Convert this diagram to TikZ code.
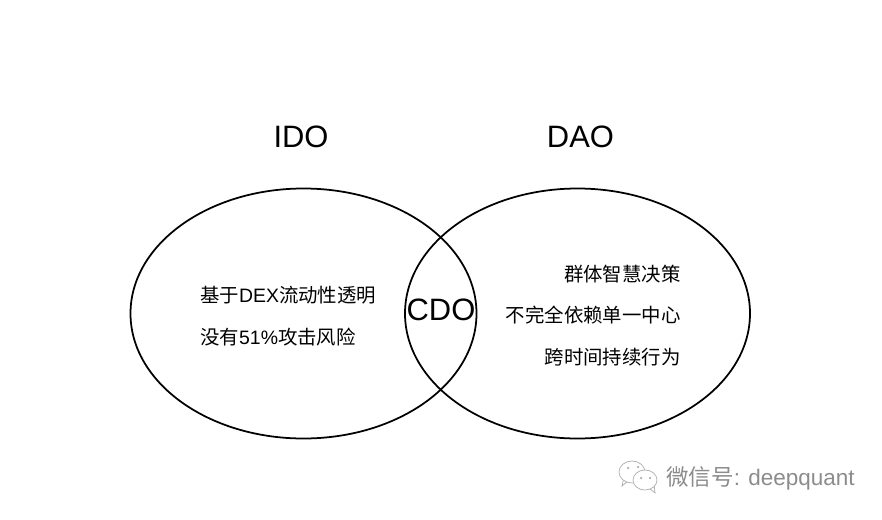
\documentclass[tikz,border=0pt]{standalone}
\usepackage{fontspec}
\setmainfont{Liberation Sans}
\newfontfamily\cjk{Noto Sans CJK SC}
\usetikzlibrary{positioning}
\usetikzlibrary{shapes.geometric}
\definecolor{markgray}{gray}{0.55}
\definecolor{icongray}{gray}{0.68}
\tikzset{
	circlenode/.style={draw,line width=1pt,ellipse,inner sep=0pt},
	titlenode/.style={font=\fontsize{17.6}{20}\selectfont},
	textnode/.style={font=\fontsize{11.05}{13}\selectfont,inner sep=0pt},
	marknode/.style={font=\fontsize{12.8}{16}\selectfont,text=markgray,inner sep=0pt},
	iconline/.style={draw=icongray,fill=white,line width=0.4pt}
}
\begin{document}
\begin{tikzpicture}
	\useasboundingbox (0,0) rectangle (17.64,10.38);
	\fill[white] (0,0) rectangle (17.64,10.38);
	% the two sets
	\node[circlenode,minimum width=6.92cm,minimum height=5cm] (ido) at (6.07,4.11) {};
	\node[circlenode,minimum width=6.9cm,minimum height=5cm] (dao) at (11.55,4.11) {};
	% titles
	\node[titlenode] (idotitle) at (6.02,7.65) {IDO};
	\node[titlenode] (daotitle) at (11.61,7.65) {DAO};
	\node[titlenode] (cdo) at (8.82,4.19) {CDO};
	% left text
	\node[textnode,anchor=west] (idoa) at (4.0,4.48) {{\cjk 基于}DEX{\cjk 流动性透明}};
	\node[textnode,anchor=west] (idob) at (4.0,3.64) {{\cjk 没有}51\%{\cjk 攻击风险}};
	% right text
	\node[textnode,anchor=east] (daoa) at (13.62,4.9) {\cjk 群体智慧决策};
	\node[textnode,anchor=east] (daob) at (13.62,4.08) {\cjk 不完全依赖单一中心};
	\node[textnode,anchor=east] (daoc) at (13.62,3.23) {\cjk 跨时间持续行为};
	% watermark
	\draw[iconline] (12.56,0.76) -- (12.44,0.66) -- (12.48,0.84) -- cycle;
	\draw[iconline] (12.64,0.94) ellipse (0.26 and 0.22);
	\draw[iconline] (12.98,0.62) -- (13.1,0.52) -- (13.08,0.7) -- cycle;
	\draw[iconline] (12.9,0.78) ellipse (0.24 and 0.2);
	\foreach \x/\y in {12.56/1.02,12.76/1.04,12.82/0.82,13.0/0.82}
		\fill[icongray] (\x,\y) circle (0.025);
	\node[marknode,anchor=west] (mark) at (13.32,0.82) {{\cjk 微信号}: deepquant};
\end{tikzpicture}
\end{document}
